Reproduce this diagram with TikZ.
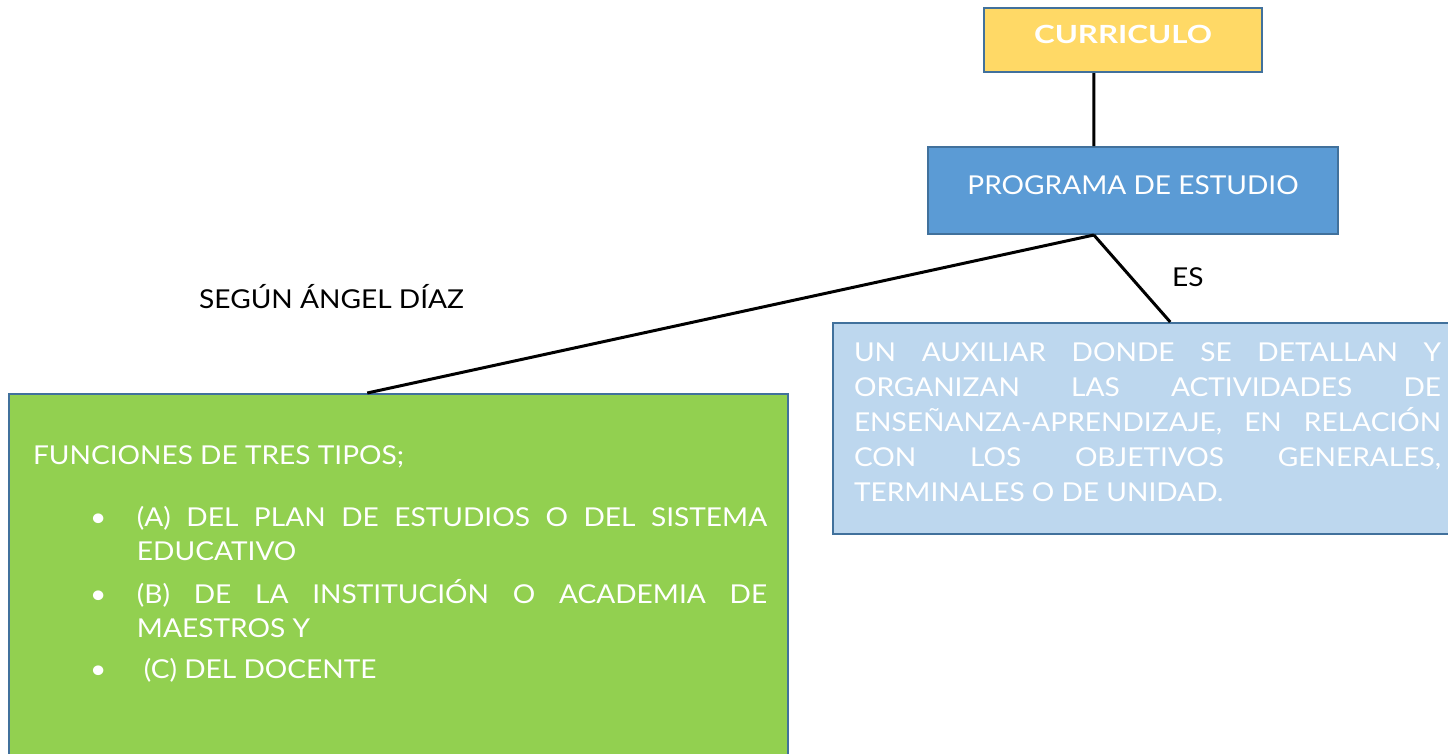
\documentclass[tikz,border=0pt]{standalone}
\usepackage{fontspec}
\setmainfont{Lato}[FakeStretch=1.08]
\newfontfamily\curfont{Lato}[FakeStretch=1.25]
\usetikzlibrary{calc}
\definecolor{bord}{HTML}{41719C}
\definecolor{yel}{HTML}{FFD966}
\definecolor{pblue}{HTML}{5B9BD5}
\definecolor{lblue}{HTML}{BDD7EE}
\definecolor{grn}{HTML}{92D050}
\newcommand{\bitem}[2][0pt]{\noindent\hspace*{57pt}\makebox[47pt][l]{\textbullet}\parbox[t]{630pt}{\hyphenpenalty=10000\hspace*{#1}#2}\par}
\begin{document}
\begin{tikzpicture}[x=1pt,y=-1pt,
  box/.style={draw=bord,line width=2pt,rectangle},
  conn/.style={draw=black,line width=3pt},
  lbl/.style={inner sep=0pt,font=\fontsize{26}{30}\selectfont,text=black}]
\useasboundingbox (0,0) rectangle (1448,753);
\clip (0,0) rectangle (1448,753);
\node[box,fill=yel,minimum width=278pt,minimum height=64pt,text=white,
  font=\fontsize{25}{30}\curfont\bfseries,text height=18pt,text depth=12pt] (cur) at (1123,40) {CURRICULO};
\node[box,fill=pblue,minimum width=410pt,minimum height=87pt,text=white,
  font=\fontsize{26}{30}\selectfont,text height=19pt,text depth=12pt] (prog) at (1133,190.5) {PROGRAMA DE ESTUDIO};
\node[box,fill=lblue,anchor=north west,text=white,inner xsep=21pt,inner ysep=0pt,
  font=\fontsize{26}{35}\selectfont] (aux) at (832,322)
  {\begin{minipage}[t][211pt][t]{587pt}\vspace*{20pt}\hyphenpenalty=10000\exhyphenpenalty=10000
   \noindent UN AUXILIAR DONDE SE DETALLAN Y\linebreak ORGANIZAN LAS ACTIVIDADES DE\linebreak
   ENSEÑANZA-APRENDIZAJE, EN RELACIÓN\linebreak CON LOS OBJETIVOS GENERALES,\linebreak
   TERMINALES O DE UNIDAD.\end{minipage}};
\node[box,fill=grn,anchor=north west,text=white,inner xsep=24pt,inner ysep=0pt,
  font=\fontsize{26}{34}\selectfont] (fun) at (8,393)
  {\begin{minipage}[t][375pt][t]{731pt}\vspace*{52pt}\noindent FUNCIONES DE TRES TIPOS;\par\vspace{28pt}
   \bitem{(A) DEL PLAN DE ESTUDIOS O DEL SISTEMA\linebreak EDUCATIVO}\vspace{17pt}
   \bitem{(B) DE LA INSTITUCIÓN O ACADEMIA DE\linebreak MAESTROS Y}\vspace{20pt}
   \bitem[7pt]{(C) DEL DOCENTE}\end{minipage}};
\node[lbl,anchor=base west] (es) at (1172,286) {ES};
\node[lbl,anchor=base west] (seg) at (199,308) {SEGÚN ÁNGEL DÍAZ};
\coordinate (pA) at ($(prog.south west)!0.405!(prog.south east)$);
\draw[conn] ($(cur.south west)!0.396!(cur.south east)$) -- ($(prog.north west)!0.405!(prog.north east)$);
\draw[conn] (pA) -- ($(fun.north west)!0.46!(fun.north east)$);
\draw[conn] (pA) -- ($(aux.north west)!0.536!(aux.north east)$);
\end{tikzpicture}
\end{document}
